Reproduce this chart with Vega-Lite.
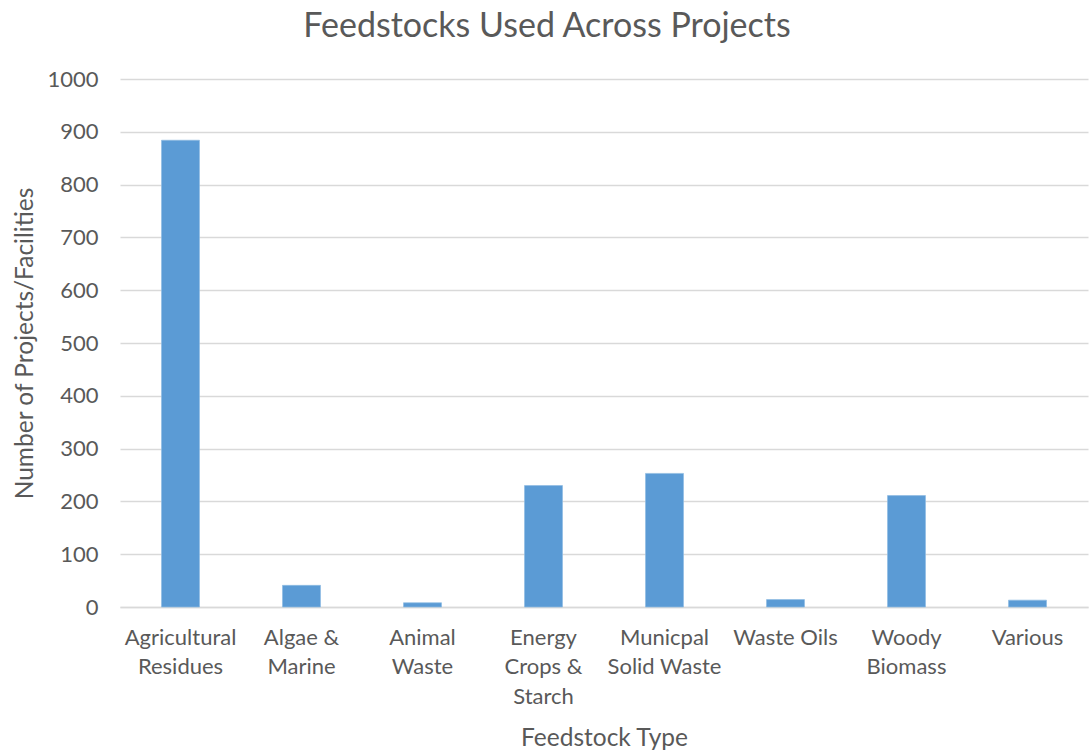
{
  "$schema": "https://vega.github.io/schema/vega-lite/v6.json",
  "width": 968,
  "height": 528,
  "autosize": {"type": "none"},
  "padding": {"left": 120, "top": 79, "right": 1, "bottom": 143},
  "background": "white",
  "title": {
    "text": "Feedstocks Used Across Projects",
    "font": "Lato",
    "fontSize": 34,
    "fontWeight": "normal",
    "color": "#595959",
    "anchor": "middle",
    "dx": -57,
    "offset": 24
  },
  "data": {
    "values": [
      {"feedstock": "Agricultural Residues", "count": 884},
      {"feedstock": "Algae & Marine", "count": 41},
      {"feedstock": "Animal Waste", "count": 8},
      {"feedstock": "Energy Crops & Starch", "count": 230},
      {"feedstock": "Municpal Solid Waste", "count": 253},
      {"feedstock": "Waste Oils", "count": 14},
      {"feedstock": "Woody Biomass", "count": 211},
      {"feedstock": "Various", "count": 13}
    ]
  },
  "mark": {"type": "bar", "color": "#5B9BD5", "stroke": "#8fbbe3", "strokeWidth": 0.7},
  "encoding": {
    "x": {
      "field": "feedstock",
      "type": "nominal",
      "sort": null,
      "scale": {"paddingInner": 0.686, "paddingOuter": 0.343},
      "axis": {
        "title": "Feedstock Type",
        "titleFont": "Lato",
        "titleFontSize": 24.5,
        "titleFontWeight": "normal",
        "titleColor": "#595959",
        "titlePadding": 19,
        "labelAngle": 0,
        "labelFont": "Lato",
        "labelFontSize": 22,
        "labelColor": "#595959",
        "labelLineHeight": 29.5,
        "labelPadding": 20,
        "labelExpr": "datum.value == 'Agricultural Residues' ? ['Agricultural', 'Residues'] : datum.value == 'Algae & Marine' ? ['Algae &', 'Marine'] : datum.value == 'Animal Waste' ? ['Animal', 'Waste'] : datum.value == 'Energy Crops & Starch' ? ['Energy', 'Crops &', 'Starch'] : datum.value == 'Municpal Solid Waste' ? ['Municpal', 'Solid Waste'] : datum.value == 'Woody Biomass' ? ['Woody', 'Biomass'] : datum.value",
        "ticks": false,
        "domainColor": "#d9d9d9",
        "domainWidth": 1.5,
        "grid": false
      }
    },
    "y": {
      "field": "count",
      "type": "quantitative",
      "scale": {"domain": [0, 1000], "nice": false},
      "axis": {
        "title": "Number of Projects/Facilities",
        "titleFont": "Lato",
        "titleFontSize": 24.5,
        "titleFontWeight": "normal",
        "titleColor": "#595959",
        "titlePadding": 9,
        "format": "d",
        "values": [0, 100, 200, 300, 400, 500, 600, 700, 800, 900, 1000],
        "labelFont": "Lato",
        "labelFontSize": 22,
        "labelColor": "#595959",
        "labelPadding": 22,
        "ticks": false,
        "domain": false,
        "grid": true,
        "gridColor": "#d9d9d9",
        "gridWidth": 1.5
      }
    }
  },
  "config": {"view": {"stroke": null}}
}
